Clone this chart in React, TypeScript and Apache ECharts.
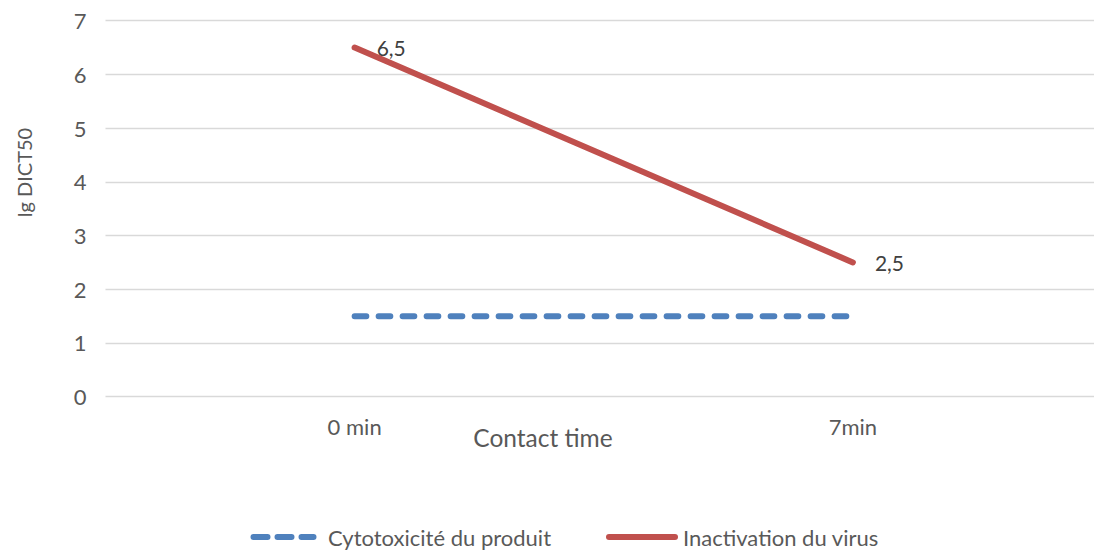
import React, { useEffect, useRef } from "react";
import * as echarts from "echarts";

const categories = ["0 min", "7min"];
const cytotoxicite = [1.5, 1.5];
const inactivation = [6.5, 2.5];
const seriesNames = ["Cytotoxicité du produit", "Inactivation du virus"];
const yTitle = "lg DICT50";
const xTitle = "Contact time";

const FONT = "Lato, 'Open Sans', sans-serif";
const TXT = "#595959";
const BLUE = "#4F81BD";
const RED = "#C0504D";

export default function App() {
  const ref = useRef<HTMLDivElement>(null);
  useEffect(() => {
    if (!ref.current) return;
    const chart = echarts.init(ref.current, undefined, { renderer: "svg" });
    chart.setOption({
      animation: false,
      textStyle: { fontFamily: FONT },
      grid: { left: 97.5, width: 1006, top: 12.7, bottom: 153.3, containLabel: false },
      xAxis: {
        type: "category",
        data: categories,
        boundaryGap: true,
        axisLine: { show: false },
        axisTick: { show: false },
        axisLabel: { color: TXT, fontSize: 22, fontFamily: FONT, margin: 19 },
        splitLine: { show: false },
      },
      yAxis: {
        type: "value",
        min: 0,
        max: 7,
        interval: 1,
        axisLine: { show: false },
        axisTick: { show: false },
        axisLabel: { color: TXT, fontSize: 22, fontFamily: FONT, margin: 19 },
        splitLine: { lineStyle: { color: "#D9D9D9", width: 1.3 } },
      },
      graphic: [
        {
          type: "text",
          x: 16,
          y: 164.5,
          rotation: Math.PI / 2,
          style: {
            text: yTitle,
            fill: TXT,
            font: `20px ${FONT}`,
            align: "center",
            verticalAlign: "middle",
          },
        },
        {
          type: "text",
          x: 535,
          y: 429,
          style: {
            text: xTitle,
            fill: TXT,
            font: `24.5px ${FONT}`,
            align: "center",
            verticalAlign: "middle",
          },
        },
        {
          type: "line",
          shape: { x1: 245.5, y1: 529, x2: 305.5, y2: 529 },
          style: { stroke: BLUE, lineWidth: 6, lineDash: [14, 10], lineCap: "round" },
        },
        {
          type: "text",
          x: 320,
          y: 529,
          style: {
            text: seriesNames[0],
            fill: TXT,
            font: `22px ${FONT}`,
            align: "left",
            verticalAlign: "middle",
          },
        },
        {
          type: "line",
          shape: { x1: 601, y1: 529, x2: 667, y2: 529 },
          style: { stroke: RED, lineWidth: 6, lineCap: "round" },
        },
        {
          type: "text",
          x: 675,
          y: 529,
          style: {
            text: seriesNames[1],
            fill: TXT,
            font: `22px ${FONT}`,
            align: "left",
            verticalAlign: "middle",
          },
        },
      ],
      series: [
        {
          name: seriesNames[0],
          type: "line",
          data: cytotoxicite,
          symbol: "circle",
          symbolSize: 0,
          lineStyle: { color: BLUE, width: 6, type: [11.7, 12.3], cap: "round" },
          itemStyle: { color: BLUE },
        },
        {
          name: seriesNames[1],
          type: "line",
          data: inactivation,
          symbol: "circle",
          symbolSize: 0,
          lineStyle: { color: RED, width: 6, cap: "round" },
          itemStyle: { color: RED },
          label: {
            show: true,
            position: "right",
            distance: 22,
            color: "#404040",
            fontSize: 21,
            fontFamily: FONT,
            formatter: (p: any) => String(p.value).replace(".", ","),
          },
        },
      ],
    });
    return () => chart.dispose();
  }, []);
  return <div ref={ref} style={{ width: 1094, height: 542 }} />;
}
